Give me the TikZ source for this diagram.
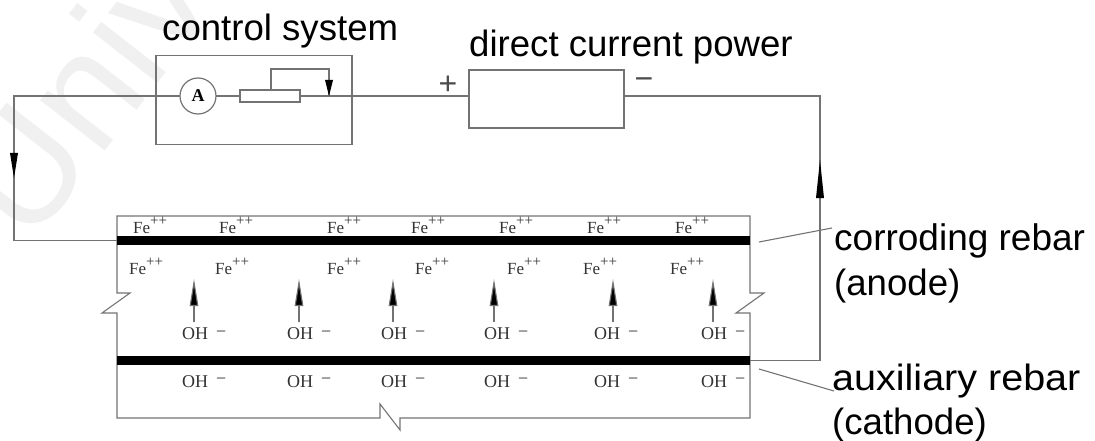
\documentclass[tikz,border=0pt]{standalone}
\usepackage{fontspec}
\setmainfont{Liberation Sans}
\newfontfamily\serifface{Liberation Serif}
\usetikzlibrary{arrows.meta}
\definecolor{wirecol}{gray}{0.45}
\definecolor{markcol}{gray}{0.94}
\tikzset{
  x=1pt,y=-1pt,
  wire/.style={draw=wirecol,line width=1.1pt},
  boxed/.style={draw=wirecol,line width=1.2pt,inner sep=0pt,outer sep=0pt,fill=none},
  rebar/.style={fill=black,draw=none,inner sep=0pt,outer sep=0pt},
  bigtext/.style={inner sep=0pt,anchor=base west,font=\fontsize{36.6}{40}\selectfont,text=black},
  ion/.style={inner sep=0pt,anchor=base west,font=\serifface\fontsize{17}{18}\selectfont,text=black!80},
  ohion/.style={ion,font=\serifface\fontsize{18}{18}\selectfont},
  flow/.style={wire,-{Triangle[length=27pt,width=8.5pt,fill=black]}}
}
\newcommand{\feion}[3]{\node[ion] (#1) at (#2,#3) {Fe\raisebox{8pt}{\fontsize{15}{15}\selectfont ++}};}
\begin{document}
\begin{tikzpicture}
\useasboundingbox (0,0) rectangle (1095,441);
\clip (0,0) rectangle (1095,441);
% watermark
\node[inner sep=0pt,anchor=base west,rotate=52,text=markcol,font=\fontsize{155}{155}\selectfont] (wm) at (29,248) {Univ};
% titles
\node[bigtext] (tctrl) at (162,41) {control system};
\node[bigtext] (tpow) at (469,57) {direct current power};
\node[bigtext,font=\fontsize{37}{40}\selectfont] (tcorr) at (834,250) {corroding rebar};
\node[bigtext] (tanode) at (834,295) {(anode)};
\node[bigtext,xscale=1.08,anchor=base west] (taux) at (832,390) {auxiliary rebar};
\node[bigtext] (tcath) at (832,434) {(cathode)};
% control system
\node[boxed,minimum width=196pt,minimum height=89pt] (ctrl) at (254,100) {};
\node[boxed,circle,minimum size=36pt,font=\serifface\bfseries\fontsize{18}{18}\selectfont] (amm) at (198,96) {A};
\node[boxed,minimum width=60pt,minimum height=12pt] (res) at (270,96) {};
\node[boxed,minimum width=155pt,minimum height=58pt] (power) at (546.5,99) {};
\node[inner sep=0pt,font=\fontsize{32}{32}\selectfont,text=black!70] (plus) at (448,85) {+};
\node[inner sep=0pt,font=\fontsize{32}{32}\selectfont,text=black!70] (minus) at (644,84) {−};
% concrete outline
\coordinate (tl) at (117,216);
\coordinate (tr) at (750,216);
\coordinate (bl) at (117,418);
\coordinate (br) at (750,418);
\draw[wire] (117,293) -- (tl) -- (tr) -- (750,293) -- (764,293) -- (736,313) -- (750,313) -- (br) -- (400,418) -- (400,430) -- (380,404) -- (380,418) -- (bl) -- (117,313) -- (102,313) -- (130,293) -- cycle;
% rebars
\node[rebar,minimum width=633pt,minimum height=8.5pt] (anode) at (433.5,240.5) {};
\node[rebar,minimum width=633pt,minimum height=9.5pt] (cathode) at (433.5,360.5) {};
% circuit
\coordinate (cl) at (14,96);
\coordinate (cb) at (14,240.5);
\coordinate (cr) at (820,96);
\coordinate (crb) at (820,360.5);
\coordinate (tapa) at (271,69);
\coordinate (tapb) at (329,69);
\coordinate (tapc) at (329,96);
\draw[wire] (amm.west) -- (cl) -- (cb) -- (anode.west);
\draw[wire] (amm.east) -- (res.west);
\draw[wire] (res.east) -- (power.west |- res.east);
\draw[wire] (res.north -| tapa) -- (tapa) -- (tapb) -- (tapc);
\draw[wire] (power.east |- cr) -- (cr) -- (crb) -- (cathode.east);
% arrowheads on the wires
\fill (325,80) -- (333,80) -- (329,96) -- cycle;
\fill (10,153) -- (18,153) -- (14,178) -- cycle;
\fill (820,160) -- (824,198) -- (816,198) -- cycle;
% leaders
\coordinate (la1) at (759,242);
\coordinate (la2) at (832,228);
\coordinate (lb1) at (759,369);
\coordinate (lb2) at (834,391);
\draw[wire] (la1) -- (la2);
\draw[wire] (lb1) -- (lb2);
% ions top
\feion{a1}{133}{233}\feion{a2}{219}{233}\feion{a3}{327}{233}\feion{a4}{411}{233}\feion{a5}{499}{233}\feion{a6}{587}{233}\feion{a7}{675}{233}
\feion{b1}{129}{274}\feion{b2}{215}{274}\feion{b3}{327}{274}\feion{b4}{415}{274}\feion{b5}{507}{274}\feion{b6}{583}{274}\feion{b7}{670}{274}
% OH ions
\foreach \n/\x in {1/182,2/287,3/381,4/484,5/594,6/701}{
  \node[ohion] (oh\n) at (\x,339) {OH\hspace{8pt}\raisebox{2pt}{−}};
  \node[ohion] (oi\n) at (\x,387) {OH\hspace{8pt}\raisebox{3pt}{−}};
}
% migration arrows
\foreach \n/\x in {1/194,2/299,3/393,4/494,5/613,6/713}{
  \draw[flow] (\x,322) -- (\x,279);
}
\end{tikzpicture}
\end{document}
